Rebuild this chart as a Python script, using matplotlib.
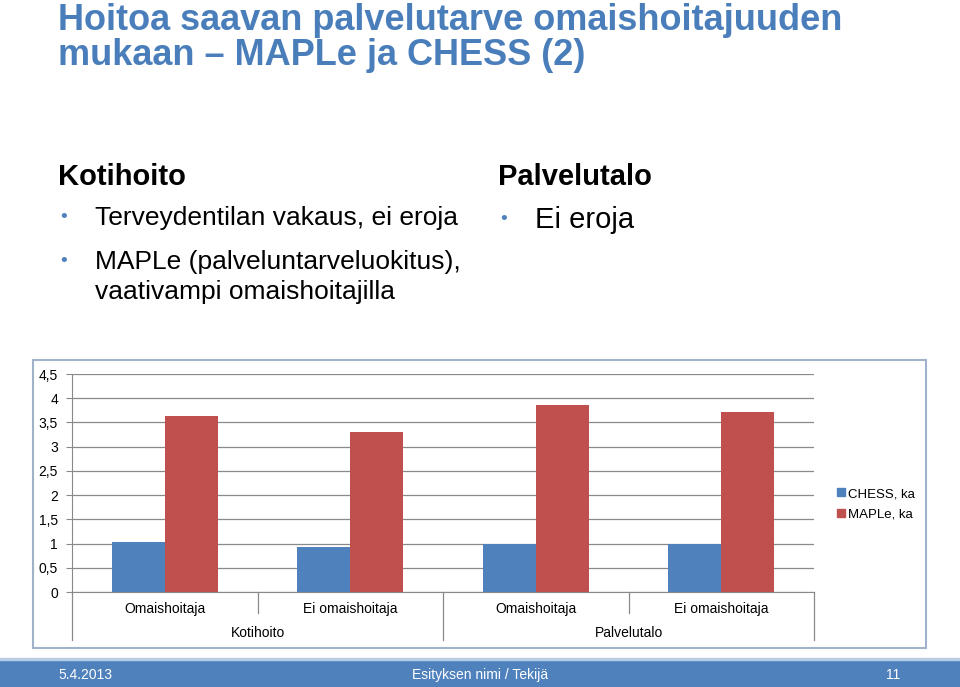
import matplotlib.pyplot as plt
from matplotlib.patches import Rectangle
from matplotlib.lines import Line2D
import numpy as np

# data
groups = ['Kotihoito', 'Palvelutalo']
subcats = ['Omaishoitaja', 'Ei omaishoitaja', 'Omaishoitaja', 'Ei omaishoitaja']
chess = [1.03, 0.92, 1.0, 1.0]
maple = [3.64, 3.30, 3.85, 3.72]
series_names = ['CHESS, ka', 'MAPLe, ka']
yticks = [0, 0.5, 1, 1.5, 2, 2.5, 3, 3.5, 4, 4.5]

blue = '#4F81BD'
red = '#C0504D'
title_blue = '#4A7EBB'
grid_gray = '#898989'

plt.rcParams['font.family'] = ['Liberation Sans', 'DejaVu Sans']

W, H = 960, 687
fig = plt.figure(figsize=(W / 100, H / 100), dpi=100)

def fx(px):
    return px / W

def fy(py):
    return 1 - py / H

# slide texts
fig.text(fx(58), fy(30), 'Hoitoa saavan palvelutarve omaishoitajuuden', color=title_blue,
         fontsize=26, fontweight='bold', va='baseline', ha='left')
fig.text(fx(58), fy(65), 'mukaan \u2013 MAPLe ja CHESS (2)', color=title_blue,
         fontsize=26, fontweight='bold', va='baseline', ha='left')

fig.text(fx(58), fy(177), 'Kotihoito', fontsize=21, fontweight='bold', va='center')
fig.text(fx(498), fy(177), 'Palvelutalo', fontsize=21, fontweight='bold', va='center')

bullets = [(60, 95, 218, 'Terveydentilan vakaus, ei eroja', 19),
           (60, 95, 262, 'MAPLe (palveluntarveluokitus),', 19),
           (500, 535, 220, 'Ei eroja', 21)]
for bx, tx, ty, txt, fs in bullets:
    fig.text(fx(bx), fy(ty), '\u2022', color=blue, fontsize=14, va='center')
    fig.text(fx(tx), fy(ty), txt, fontsize=fs, va='center')
fig.text(fx(95), fy(292), 'vaativampi omaishoitajilla', fontsize=19, va='center')

# chart frame
fig.patches.append(Rectangle((fx(33), fy(648)), fx(926) - fx(33), fy(360) - fy(648),
                             transform=fig.transFigure, fill=False,
                             edgecolor='#9FB2C9', lw=1.5))

ax = fig.add_axes([fx(72), fy(592), fx(814) - fx(72), fy(374) - fy(592)])
x = np.arange(len(subcats))
w = 0.2857
ax.bar(x - w / 2, chess, w, color=blue, label=series_names[0], zorder=3)
ax.bar(x + w / 2, maple, w, color=red, label=series_names[1], zorder=3)

ax.set_xlim(-0.5, len(subcats) - 0.5)
ax.set_ylim(0, 4.5)
ax.set_yticks(yticks)
ax.set_yticklabels([('%g' % v).replace('.', ',') for v in yticks], fontsize=10)
ax.yaxis.grid(True, color=grid_gray, lw=0.9, zorder=0)
ax.tick_params(axis='y', length=4, color=grid_gray, pad=6)
ax.set_xticks([])
for s in ['top', 'right']:
    ax.spines[s].set_visible(False)
ax.spines['left'].set_color(grid_gray)
ax.spines['bottom'].set_color(grid_gray)

# two-level category axis
tr = ax.get_xaxis_transform()
for i, xs in enumerate(np.arange(-0.5, len(subcats), 1.0)):
    low = -0.22 if i % 2 == 0 else -0.096
    ax.plot([xs, xs], [0, low], transform=tr, color=grid_gray, lw=0.9, clip_on=False)
for xi, lab in zip(x, subcats):
    ax.text(xi, -0.078, lab, transform=tr, ha='center', va='center', fontsize=10)
for gi, g in enumerate(groups):
    ax.text(2 * gi + 0.5, -0.188, g, transform=tr, ha='center', va='center', fontsize=10)

handles = [Line2D([], [], marker='s', ls='', color=c, markersize=6) for c in (blue, red)]
fig.legend(handles, series_names, loc='center left', bbox_to_anchor=(fx(830), fy(504)),
           frameon=False, fontsize=9.5, handlelength=0.8, handletextpad=0.2,
           labelspacing=0.6, borderaxespad=0)

# footer bar
fig.patches.append(Rectangle((0, 0), 1, fy(660), transform=fig.transFigure,
                             color=blue, zorder=0))
fig.patches.append(Rectangle((0, fy(660)), 1, fy(658) - fy(660), transform=fig.transFigure,
                             color='#B8CCE4', zorder=0))
foot = ['Liberation Sans Narrow', 'Liberation Sans']
fig.text(fx(58), fy(675), '5.4.2013', color='white', fontsize=10, va='center', family=foot)
fig.text(fx(480), fy(675), 'Esityksen nimi / Tekij\u00e4', color='white', fontsize=10,
         va='center', ha='center', family=foot)
fig.text(fx(900), fy(675), '11', color='white', fontsize=10, va='center', ha='right', family=foot)

fig.savefig('out.png', dpi=100)
